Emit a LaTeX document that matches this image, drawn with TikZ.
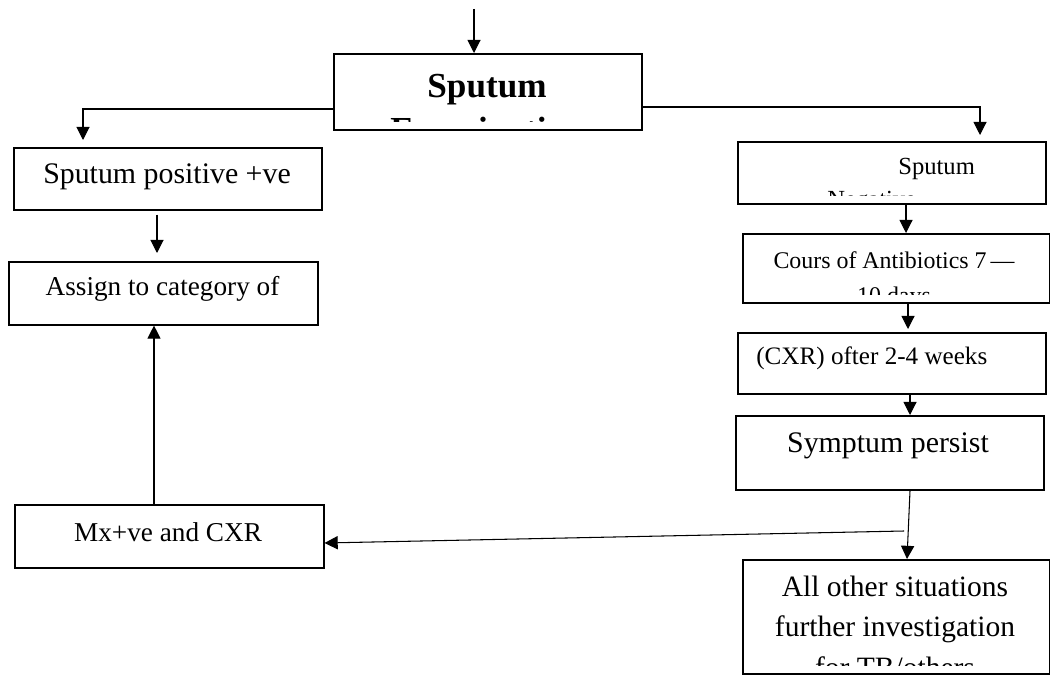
\documentclass[tikz,border=0pt]{standalone}
\usepackage{fontspec}
\setmainfont{Liberation Serif}
\usetikzlibrary{arrows.meta}
\newcommand{\clipin}[2]{\begin{scope}\clip ([yshift=0.19cm]#1.south west) rectangle (#1.north east); #2\end{scope}}
\begin{document}
\begin{tikzpicture}[x=0.02cm, y=-0.02cm,
    flow/.style={draw, line width=0.9pt, inner sep=0pt, anchor=north west},
    arr/.style={-{Triangle[length=7.5pt, width=7.5pt]}, line width=0.6pt},
    lbl/.style={inner sep=0pt, anchor=base, align=center}]
        \useasboundingbox (0, 0) rectangle (1050, 675);
        \node [flow, minimum width=6.16cm, minimum height=1.52cm] (exam) at (333, 53) {};
        \node [flow, minimum width=6.16cm, minimum height=1.24cm] (pos) at (13, 147) {};
        \node [flow, minimum width=6.18cm, minimum height=1.26cm] (assign) at (8, 261) {};
        \node [flow, minimum width=6.18cm, minimum height=1.26cm] (mx) at (14, 504) {};
        \node [flow, minimum width=6.16cm, minimum height=1.24cm] (neg) at (737, 141) {};
        \node [flow, minimum width=6.14cm, minimum height=1.38cm] (abx) at (742, 233) {};
        \node [flow, minimum width=6.16cm, minimum height=1.22cm] (cxr) at (737, 332) {};
        \node [flow, minimum width=6.16cm, minimum height=1.48cm] (persist) at (735, 415) {};
        \node [flow, minimum width=6.14cm, minimum height=2.28cm] (other) at (742, 559) {};
        \clipin{exam}{\node [lbl, font=\fontsize{20pt}{25.6pt}\selectfont\bfseries] (examtxt) at (487, 142) {Sputum\\Examination};}
        \clipin{pos}{\node [lbl, font=\fontsize{17pt}{20pt}\selectfont] (postxt) at (167, 184) {Sputum positive +ve};}
        \clipin{assign}{\node [lbl, font=\fontsize{15.5pt}{19pt}\selectfont] (assigntxt) at (162.5, 296) {Assign to category of};}
        \clipin{mx}{\node [lbl, font=\fontsize{15.5pt}{19pt}\selectfont] (mxtxt) at (168, 541) {Mx+ve and CXR};}
        \clipin{neg}{\node [lbl, anchor=base west, font=\fontsize{14pt}{17pt}\selectfont] (negtxt) at (898, 175) {Sputum};
            \node [lbl, anchor=base west, font=\fontsize{14pt}{17pt}\selectfont] (negtxtb) at (827, 208) {Negative};}
        \clipin{abx}{\node [lbl, font=\fontsize{13.6pt}{20.2pt}\selectfont] (abxtxt) at (894, 303.5) {Cours of Antibiotics 7\,—\\10 days};}
        \clipin{cxr}{\node [lbl, anchor=base west, font=\fontsize{14.3pt}{17pt}\selectfont] (cxrtxt) at (756, 364) {(CXR) ofter 2-4 weeks};}
        \clipin{persist}{\node [lbl, font=\fontsize{17pt}{20pt}\selectfont] (persisttxt) at (888, 452) {Symptum persist};}
        \clipin{other}{\node [lbl, font=\fontsize{16.8pt}{22.8pt}\selectfont] (othertxt) at (895, 677) {All other situations\\further investigation\\for TB/others};}
        \coordinate (start) at (474, 9);
        \coordinate (split) at (904, 531);
        \draw [arr] (start) -- (start |- exam.north);
        \draw [arr, shorten >=0.14cm] (exam.west |- 0, 109) -| (pos.north -| 83, 0);
        \draw [arr, shorten >=0.12cm] (exam.east |- 0, 107) -| (neg.north -| 980, 0);
        \draw [arr, shorten <=0.08cm, shorten >=0.16cm] (pos.south -| 157, 0) -- (assign.north -| 157, 0);
        \draw [arr] (mx.north -| 154, 0) -- (assign.south -| 154, 0);
        \draw [arr] (neg.south -| 906, 0) -- (abx.north -| 906, 0);
        \draw [arr, shorten >=0.06cm] (abx.south -| 908, 0) -- (cxr.north -| 908, 0);
        \draw [arr] (cxr.south -| 910, 0) -- (persist.north -| 910, 0);
        \draw [arr] (persist.south -| 910, 0) -- (other.north -| 907, 0);
        \draw [arr] (split) -- (mx.east |- 0, 543);
    \end{tikzpicture}
\end{document}
